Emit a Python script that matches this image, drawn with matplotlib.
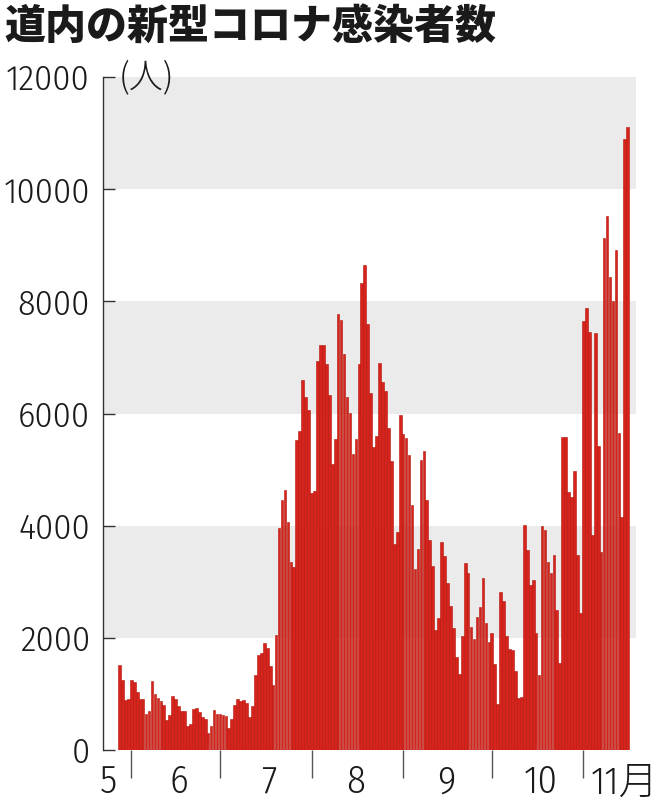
import numpy as np
import pandas as pd
import matplotlib.pyplot as plt

# daily new cases in Hokkaido
cases = [
    1520, 1240, 895, 905,                                    # May 28-31
    1240, 1220, 1040, 905, 905, 645, 700, 1225, 990, 935,    # June
    880, 800, 540, 620, 965, 905, 790, 690, 700, 430,
    465, 730, 750, 670, 580, 550, 310, 420, 710, 640,
    635, 620, 610, 400, 560, 810, 905, 880, 890, 845,        # July
    585, 785, 1340, 1695, 1725, 1915, 1815, 1500, 1160, 2055,
    3955, 4460, 4630, 4060, 3360, 3260, 5535, 5680, 6590, 6295,
    6070,
    4580, 4625, 6930, 7215, 7215, 6885, 6325, 5100, 5550, 7775,  # August
    7665, 7065, 6290, 6010, 5285, 5545, 6885, 8325, 8645, 7600,
    6365, 5405, 5595, 6900, 6555, 6410, 5740, 5160, 3670, 3885,
    5980,
    5640, 5565, 5265, 4375, 3225, 3580, 5175, 5325, 4450, 3750,  # September
    3285, 2140, 2350, 3705, 3465, 2985, 2560, 2170, 1655, 1350,
    2025, 3330, 3155, 2190, 1985, 2370, 2545, 3075, 2260, 1920,
    2085, 1535, 820, 2810, 2650, 2035, 1795, 1785, 1400, 920,    # October
    950, 4015, 3570, 2945, 3025, 2085, 1340, 4000, 3915, 3360,
    3155, 3480, 2490, 1560, 5575, 5575, 4595, 4520, 4980, 3480,
    2450,
    7645, 7880, 7455, 3825, 7440, 5420, 3530, 9125, 9530, 8440,  # November
    8000, 8915, 5660, 4160, 10895, 11100,
]
days = pd.date_range("2022-05-28", periods=len(cases), freq="D")
month_labels = ["5", "6", "7", "8", "9", "10", "11月"]
y_ticks = [0, 2000, 4000, 6000, 8000, 10000, 12000]
bands = [(2000, 4000), (6000, 8000), (10000, 12000)]

num_font = ["Fira Sans Condensed", "Asap Condensed", "Noto Sans CJK JP", "DejaVu Sans"]
cjk_font = ["Noto Sans CJK JP", "DejaVu Sans"]
plt.rcParams["font.family"] = num_font
plt.rcParams["font.weight"] = 300

fig = plt.figure(figsize=(6.64, 8), dpi=100)
ax = fig.add_axes([103 / 664, 50 / 800, 533 / 664, 673 / 800])

x = np.arange(len(cases))
for lo, hi in bands:
    ax.axhspan(lo, hi, color="#ebebeb", lw=0, zorder=0)
ax.bar(x, cases, width=0.9, color="#d6241c", edgecolor="#b3140c", linewidth=0.4, zorder=2)

ax.set_xlim(-5.58, 174.8)
ax.set_ylim(0, 12000)

ax.set_yticks(y_ticks)
ax.set_yticklabels([str(v) for v in y_ticks])
ax.tick_params(axis="y", direction="in", length=8.6, width=1.0, color="#333333",
               pad=9.4, labelsize=26, labelcolor="#1a1a1a")

month_starts = [i for i, d in enumerate(days) if d.day == 1]
ax.set_xticks(month_starts)
ax.set_xticklabels([])
ax.tick_params(axis="x", direction="out", length=20, width=1.0, color="#555555")

for side in ["top", "right", "bottom"]:
    ax.spines[side].set_visible(False)
ax.spines["left"].set_color("#333333")
ax.spines["left"].set_linewidth(1.0)

# month names sit between the dividers
label_x = [-3.9, 20.1, 50.9, 80.0, 110.5, 142.6, 171.0]
for pos, lbl in zip(label_x, month_labels):
    ax.text(pos, -0.048, lbl, transform=ax.get_xaxis_transform(),
            ha="center", va="center", fontsize=28, color="#1a1a1a")

fig.text(119 / 664, 1 - 77 / 800, "(人)", ha="left", va="center", fontsize=24.5,
         family=cjk_font, weight="light", color="#1a1a1a")
fig.text(4 / 664, 1 - 7 / 800, "道内の新型コロナ感染者数", ha="left", va="top",
         fontsize=29.5, weight="heavy", family=cjk_font, color="#1a1a1a")

plt.savefig("out.png", dpi=100)
